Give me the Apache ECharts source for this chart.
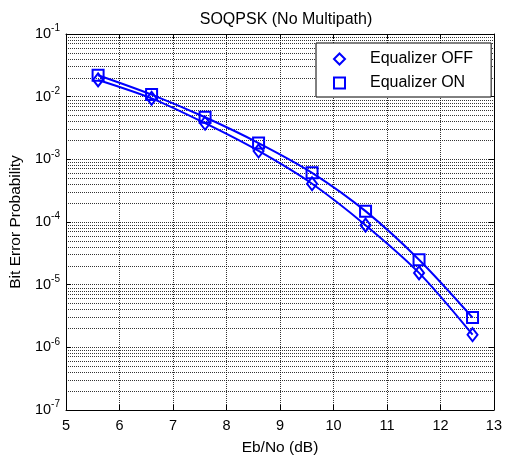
<!DOCTYPE html>
<html>
<head>
<meta charset="utf-8">
<script src="https://cdn.jsdelivr.net/npm/echarts@6/dist/echarts.min.js"></script>
<style>
html,body{margin:0;padding:0;background:#fff;}
#c{width:505px;height:461px;}
</style>
</head>
<body>
<div id="c"></div>
<script>
const xValues = [5.6, 6.6, 7.6, 8.6, 9.6, 10.6, 11.6, 12.6];
const berOff = [1.85e-2, 9.4e-3, 3.77e-3, 1.36e-3, 4.08e-4, 8.9e-5, 1.54e-5, 1.59e-6];
const berOn = [2.2e-2, 1.08e-2, 4.69e-3, 1.82e-3, 6.1e-4, 1.49e-4, 2.5e-5, 2.98e-6];
const xTicks = [5, 6, 7, 8, 9, 10, 11, 12, 13];
const yTickExps = [-7, -6, -5, -4, -3, -2, -1];
const seriesNames = ['Equalizer OFF', 'Equalizer ON'];

// minor log grid positions (2..9 x 10^k), expressed as exponents for a hidden linear axis
const minorGridExp = [];
for (let k = -7; k <= -2; k++) {
  for (let m = 2; m <= 9; m++) minorGridExp.push(k + Math.log10(m));
}

const FONT = '"Liberation Sans", Arial, sans-serif';
const BLUE = '#0000ff';
const gridStyle = { color: '#000', type: [1, 1], width: 1, opacity: 0.8 };

const chart = echarts.init(document.getElementById('c'), null, { renderer: 'canvas' });
chart.setOption({
  animation: false,
  backgroundColor: '#fff',
  textStyle: { fontFamily: FONT },
  title: {
    text: 'SOQPSK (No Multipath)',
    left: 281, textAlign: 'center', top: 7,
    textStyle: { fontFamily: FONT, fontSize: 16, fontWeight: 'normal', color: '#000' }
  },
  grid: { left: 66, right: 9, top: 34, bottom: 48, containLabel: false },
  legend: {
    data: [{ name: seriesNames[0], icon: 'diamond' }, { name: seriesNames[1], icon: 'rect' }],
    orient: 'vertical', left: 316, top: 43,
    itemWidth: 11, itemHeight: 11, itemGap: 8,
    padding: [8, 18, 6, 17],
    backgroundColor: '#fff', borderColor: '#000', borderWidth: 1, borderRadius: 0,
    textStyle: { fontFamily: FONT, fontSize: 16, color: '#000', padding: [0, 0, 0, 20] },
    selectedMode: false
  },
  xAxis: [{
    type: 'value', min: 5, max: 13, interval: 1, position: 'bottom',
    name: 'Eb/No (dB)', nameLocation: 'middle', nameGap: 30,
    nameTextStyle: { fontFamily: FONT, fontSize: 15.5, color: '#000' },
    axisLine: { show: true, onZero: false, lineStyle: { color: '#000', width: 1 } },
    axisTick: { show: true, inside: true, length: 5, lineStyle: { color: '#000' } },
    axisLabel: { show: true, margin: 8, fontFamily: FONT, fontSize: 14.5, color: '#000',
      formatter: v => xTicks.includes(v) ? String(v) : '' },
    splitLine: { show: true, lineStyle: gridStyle }
  }, {
    type: 'value', min: 5, max: 13, interval: 1, position: 'top',
    axisLine: { show: true, onZero: false, lineStyle: { color: '#000', width: 1 } },
    axisTick: { show: true, inside: true, length: 5, lineStyle: { color: '#000' } },
    axisLabel: { show: false }, splitLine: { show: false }
  }],
  yAxis: [{
    type: 'log', logBase: 10, min: 1e-7, max: 1e-1, position: 'left',
    name: 'Bit Error Probability', nameLocation: 'middle', nameGap: 37,
    nameTextStyle: { fontFamily: FONT, fontSize: 15.5, color: '#000' },
    axisLine: { show: true, onZero: false, lineStyle: { color: '#000', width: 1 } },
    axisTick: { show: true, inside: true, length: 5, lineStyle: { color: '#000' } },
    axisLabel: {
      show: true, margin: 6, color: '#000',
      formatter: v => {
        const e = Math.round(Math.log10(v));
        return yTickExps.includes(e) ? '{b|10}{s|' + e + '}' : '';
      },
      rich: {
        b: { fontFamily: FONT, fontSize: 14.5, color: '#000' },
        s: { fontFamily: FONT, fontSize: 10, color: '#000', padding: [0, 0, 11, 0] }
      }
    },
    splitLine: { show: true, lineStyle: gridStyle }
  }, {
    type: 'log', logBase: 10, min: 1e-7, max: 1e-1, position: 'right',
    axisLine: { show: true, onZero: false, lineStyle: { color: '#000', width: 1 } },
    axisTick: { show: true, inside: true, length: 5, lineStyle: { color: '#000' } },
    axisLabel: { show: false }, splitLine: { show: false }
  }, {
    type: 'value', min: -7, max: -1, show: false, position: 'left'
  }],
  series: [{
    name: 'minorGrid', type: 'line', xAxisIndex: 0, yAxisIndex: 2,
    data: [], silent: true, z: 1,
    markLine: {
      silent: true, symbol: 'none', z: 1, animation: false,
      label: { show: false },
      lineStyle: gridStyle,
      emphasis: { disabled: true },
      data: minorGridExp.map(v => ({ yAxis: v }))
    }
  }, {
    name: seriesNames[0], type: 'line', xAxisIndex: 0, yAxisIndex: 0,
    data: xValues.map((x, i) => [x, berOff[i]]),
    smooth: 0.3, symbol: 'diamond', symbolSize: [10, 13], showAllSymbol: true,
    lineStyle: { color: BLUE, width: 2 },
    itemStyle: { color: 'rgba(255,255,255,0)', borderColor: BLUE, borderWidth: 2 },
    z: 3
  }, {
    name: seriesNames[1], type: 'line', xAxisIndex: 0, yAxisIndex: 0,
    data: xValues.map((x, i) => [x, berOn[i]]),
    smooth: 0.3, symbol: 'rect', symbolSize: 11, showAllSymbol: true,
    lineStyle: { color: BLUE, width: 2 },
    itemStyle: { color: 'rgba(255,255,255,0)', borderColor: BLUE, borderWidth: 2 },
    z: 3
  }]
});
</script>
</body>
</html>
